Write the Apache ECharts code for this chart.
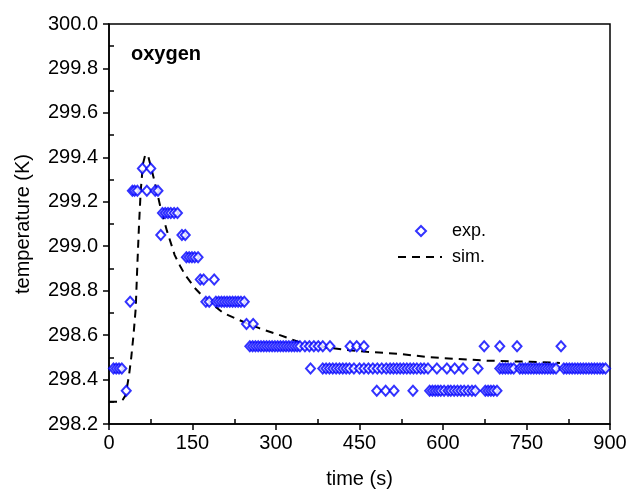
<!DOCTYPE html>
<html>
<head>
<meta charset="utf-8">
<script src="https://cdn.jsdelivr.net/npm/echarts@6/dist/echarts.min.js"></script>
<style>
html,body{margin:0;padding:0;background:#fff;}
#c{width:630px;height:494px;}
</style>
</head>
<body>
<div id="c"></div>
<script>
// ---- data ----
const xTicks = [0, 150, 300, 450, 600, 750, 900];
const yTicks = [298.2, 298.4, 298.6, 298.8, 299.0, 299.2, 299.4, 299.6, 299.8, 300.0];

// experimental points (time s, temperature K)
const expTime = [
  8, 13, 18, 23,
  31,
  38,
  42, 46, 51, 68, 83, 88,
  60, 75,
  96, 101, 106, 111, 117, 123,
  93, 131, 137,
  139, 144, 149, 154, 160,
  164, 170, 189,
  174, 180, 192, 197, 202, 207, 212, 217, 222, 227, 232, 237, 243,
  247, 259,
  253, 258, 263, 268, 273, 278, 283, 288, 293, 298, 303, 308, 313, 318, 323, 328, 333, 338, 343, 352, 360, 368, 376, 384, 397, 433, 445, 458, 674, 702, 733, 812,
  362, 384, 390, 396, 402, 408, 414, 420, 426, 432, 440, 450, 458, 466, 474, 482, 490, 498, 505, 511, 517, 523, 529, 535, 541, 547, 553, 560, 566, 573,
  589, 607, 621, 636, 663,
  702, 707, 712, 717, 722, 727, 738, 743, 748, 753, 758, 763, 768, 773, 778, 783, 788, 793, 798, 803,
  817, 822, 827, 832, 837, 842, 847, 852, 857, 862, 867, 872, 877, 882, 887, 892,
  481, 497, 512, 546, 576, 581, 586, 591, 596, 602, 609, 614, 620, 626, 632, 638, 645, 652, 658, 676, 681, 686, 691, 697
];
const expTemp = [
  298.45, 298.45, 298.45, 298.45,
  298.35,
  298.75,
  299.25, 299.25, 299.25, 299.25, 299.25, 299.25,
  299.35, 299.35,
  299.15, 299.15, 299.15, 299.15, 299.15, 299.15,
  299.05, 299.05, 299.05,
  298.95, 298.95, 298.95, 298.95, 298.95,
  298.85, 298.85, 298.85,
  298.75, 298.75, 298.75, 298.75, 298.75, 298.75, 298.75, 298.75, 298.75, 298.75, 298.75, 298.75, 298.75,
  298.65, 298.65,
  298.55, 298.55, 298.55, 298.55, 298.55, 298.55, 298.55, 298.55, 298.55, 298.55, 298.55, 298.55, 298.55, 298.55, 298.55, 298.55, 298.55, 298.55, 298.55, 298.55, 298.55, 298.55, 298.55, 298.55, 298.55, 298.55, 298.55, 298.55, 298.55, 298.55, 298.55, 298.55,
  298.45, 298.45, 298.45, 298.45, 298.45, 298.45, 298.45, 298.45, 298.45, 298.45, 298.45, 298.45, 298.45, 298.45, 298.45, 298.45, 298.45, 298.45, 298.45, 298.45, 298.45, 298.45, 298.45, 298.45, 298.45, 298.45, 298.45, 298.45, 298.45, 298.45,
  298.45, 298.45, 298.45, 298.45, 298.45,
  298.45, 298.45, 298.45, 298.45, 298.45, 298.45, 298.45, 298.45, 298.45, 298.45, 298.45, 298.45, 298.45, 298.45, 298.45, 298.45, 298.45, 298.45, 298.45, 298.45,
  298.45, 298.45, 298.45, 298.45, 298.45, 298.45, 298.45, 298.45, 298.45, 298.45, 298.45, 298.45, 298.45, 298.45, 298.45, 298.45,
  298.35, 298.35, 298.35, 298.35, 298.35, 298.35, 298.35, 298.35, 298.35, 298.35, 298.35, 298.35, 298.35, 298.35, 298.35, 298.35, 298.35, 298.35, 298.35, 298.35, 298.35, 298.35, 298.35, 298.35
];

// simulated curve (time s, temperature K)
const simTime = [0, 20, 25, 30, 36, 40, 44, 48, 51, 54, 57, 61, 65, 70, 74, 83, 92, 104, 118, 128, 137, 155, 170, 205, 241, 271, 307, 340, 373, 420, 463, 523, 577, 679, 756, 810];
const simTemp = [298.30, 298.30, 298.31, 298.33, 298.42, 298.50, 298.60, 298.72, 298.92, 299.10, 299.25, 299.37, 299.41, 299.41, 299.37, 299.28, 299.18, 299.07, 298.96, 298.91, 298.87, 298.81, 298.77, 298.70, 298.66, 298.63, 298.60, 298.57, 298.55, 298.535, 298.525, 298.515, 298.50, 298.485, 298.48, 298.475];

const seriesNames = ['exp.', 'sim.'];
const titleText = 'oxygen';
const xName = 'time (s)';
const yName = 'temperature (K)';

// ---- chart ----
const FONT = 'Arial, "Liberation Sans", sans-serif';
const chart = echarts.init(document.getElementById('c'), null, {renderer: 'canvas'});
const expData = expTime.map((t, i) => [t, expTemp[i]]);
const simData = simTime.map((t, i) => [t, simTemp[i]]);

chart.setOption({
  animation: false,
  backgroundColor: '#fff',
  textStyle: {fontFamily: FONT},
  grid: {left: 109, right: 20, top: 24, bottom: 70, show: true, borderColor: '#000', borderWidth: 1.5, backgroundColor: 'transparent'},
  title: {text: titleText, left: 131, top: 44, padding: 0, textStyle: {fontFamily: FONT, fontSize: 20, fontWeight: 'bold', color: '#000'}},
  legend: [
    {
      orient: 'vertical', left: 415, top: 222, padding: 0, itemWidth: 10, itemHeight: 10,
      textStyle: {fontFamily: FONT, fontSize: 18, color: '#000', padding: [0, 0, 0, 21]},
      data: [{name: seriesNames[0], icon: 'emptyDiamond', itemStyle: {borderWidth: 1.5}}]
    },
    {
      orient: 'vertical', left: 397, top: 248, padding: 0, itemWidth: 44, itemHeight: 12,
      textStyle: {fontFamily: FONT, fontSize: 18, color: '#000', padding: [0, 0, 0, 5]},
      data: [{name: seriesNames[1], itemStyle: {opacity: 0}}]
    }
  ],
  xAxis: {
    type: 'value', min: xTicks[0], max: xTicks[xTicks.length - 1], interval: 150,
    name: xName, nameLocation: 'middle', nameGap: 45,
    nameTextStyle: {fontFamily: FONT, fontSize: 20, color: '#000'},
    axisLine: {show: true, lineStyle: {color: '#000', width: 1.5}},
    axisTick: {show: true, length: 6, lineStyle: {color: '#000', width: 1.5}},
    minorTick: {show: true, splitNumber: 2, length: -5, lineStyle: {color: '#000', width: 1.5}},
    splitLine: {show: false},
    axisLabel: {fontFamily: FONT, fontSize: 20, color: '#000', margin: 9}
  },
  yAxis: {
    type: 'value', min: yTicks[0], max: yTicks[yTicks.length - 1], interval: 0.2,
    name: yName, nameLocation: 'middle', nameGap: 76,
    nameTextStyle: {fontFamily: FONT, fontSize: 20, color: '#000'},
    axisLine: {show: true, lineStyle: {color: '#000', width: 1.5}},
    axisTick: {show: true, length: 6, lineStyle: {color: '#000', width: 1.5}},
    minorTick: {show: true, splitNumber: 2, length: -5, lineStyle: {color: '#000', width: 1.5}},
    splitLine: {show: false},
    axisLabel: {fontFamily: FONT, fontSize: 20, color: '#000', margin: 11, formatter: v => v.toFixed(1)}
  },
  series: [
    {
      name: seriesNames[0], type: 'scatter', data: expData,
      symbol: 'emptyDiamond', symbolSize: [9, 10],
      itemStyle: {color: '#0000ff', borderColor: '#0000ff', borderWidth: 1.5},
      z: 3
    },
    {
      name: seriesNames[1], type: 'line', data: simData, showSymbol: false, symbol: 'none',
      lineStyle: {color: '#000', width: 2, type: [8, 6]},
      itemStyle: {color: '#000'},
      z: 2
    }
  ]
});
</script>
</body>
</html>
